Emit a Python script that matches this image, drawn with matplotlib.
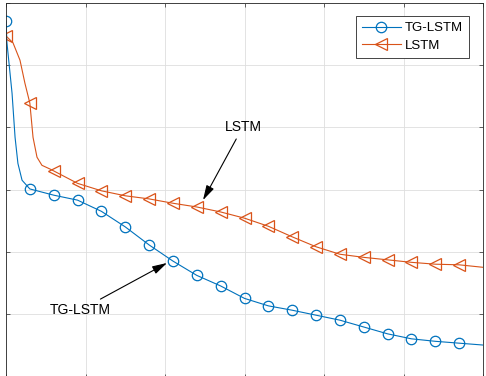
import matplotlib.pyplot as plt
import numpy as np

plt.rcParams['font.family'] = ['Liberation Sans', 'DejaVu Sans']

# epochs / values (markers every 15 epochs)
x_tg = [0, 0.6, 3.8, 5.7, 7.5, 10.1, 15, 30, 45, 60, 75, 90, 105, 120, 135, 150, 165,
        180, 195, 210, 225, 240, 255, 270, 285, 300]
y_tg = [0.571, 0.536, 0.455, 0.384, 0.342, 0.315, 0.301, 0.291, 0.283, 0.265, 0.240,
        0.211, 0.185, 0.162, 0.145, 0.125, 0.113, 0.106, 0.098, 0.090, 0.079,
        0.068, 0.060, 0.056, 0.053, 0.050]

x_lstm = [0, 4.4, 8.8, 11.9, 15, 17, 19.5, 22.6, 27.7, 30, 45, 60, 75, 90, 105, 120, 135,
          150, 165, 180, 195, 210, 225, 240, 255, 270, 285, 300]
y_lstm = [0.547, 0.536, 0.508, 0.471, 0.439, 0.384, 0.352, 0.339, 0.333, 0.330, 0.310,
          0.298, 0.290, 0.285, 0.278, 0.272, 0.264, 0.254, 0.241, 0.224, 0.208,
          0.196, 0.191, 0.187, 0.183, 0.180, 0.179, 0.175]

blue = '#0072BD'
orange = '#D95319'

fig = plt.figure(figsize=(4.86, 3.76), dpi=100)
ax = fig.add_axes([6/486, -2/376, 477/486, 375/376])

mk_tg = [i for i, x in enumerate(x_tg) if x % 15 == 0 and x < 300]
mk_ls = [i for i, x in enumerate(x_lstm) if x % 15 == 0 and x < 300]

ax.plot(x_tg, y_tg, color=blue, lw=0.8, marker='o', markersize=7.5,
        markerfacecolor='none', markeredgewidth=0.9, markevery=mk_tg, label='TG-LSTM')
ax.plot(x_lstm, y_lstm, color=orange, lw=0.8, marker='<', markersize=8,
        markerfacecolor='none', markeredgewidth=0.9, markevery=mk_ls, label='LSTM')

ax.set_xlim(0, 300)
ax.set_ylim(-0.003, 0.6)
ax.set_xticks(np.arange(0, 301, 50))
ax.set_yticks(np.arange(0, 0.61, 0.1))
ax.set_xticklabels([])
ax.set_yticklabels([])
ax.tick_params(direction='in', length=3, width=0.5, color='#262626',
               top=True, right=True)
ax.grid(True, color='#dedede', lw=0.6)
ax.set_axisbelow(True)
for s in ax.spines.values():
    s.set_color('#262626')
    s.set_linewidth(0.6)

arrow = dict(arrowstyle='-|>,head_length=0.9,head_width=0.25', color='black',
             lw=0.8, shrinkA=2, shrinkB=0)
ax.annotate('LSTM', xy=(123.9, 0.283), xytext=(149, 0.401), fontsize=10,
            ha='center', va='center', arrowprops=arrow)
ax.annotate('TG-LSTM', xy=(101.3, 0.182), xytext=(46.5, 0.106), fontsize=10,
            ha='center', va='center', arrowprops=arrow)

leg = ax.legend(loc='upper right', bbox_to_anchor=(0.971, 0.965), fontsize=9.5,
                fancybox=False, framealpha=1, edgecolor='#262626',
                handlelength=3.0, borderpad=0.45, labelspacing=0.4,
                handletextpad=0.3, borderaxespad=0)
leg.get_frame().set_linewidth(0.6)

fig.savefig('out.png', dpi=100)
